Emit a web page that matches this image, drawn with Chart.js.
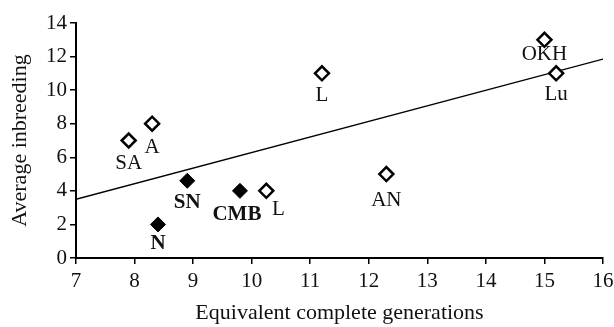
<!DOCTYPE html>
<html>
<head>
<meta charset="utf-8">
<script src="https://cdn.jsdelivr.net/npm/chart.js@4.4.1/dist/chart.umd.min.js"></script>
<style>
  html, body { margin: 0; padding: 0; background: #fff; }
  #wrap { width: 614px; height: 327px; }
</style>
</head>
<body>
<div id="wrap"><canvas id="c" width="614" height="327"></canvas></div>
<script>
// Open-diamond populations
const openLabels = ["SA", "A", "L", "OKH", "Lu", "AN", "L"];
const openX = [7.9, 8.3, 11.2, 15.0, 15.2, 12.3, 10.25];
const openY = [7.0, 8.0, 11.0, 13.0, 11.0, 5.0, 4.0];

// Filled-diamond populations
const filledLabels = ["SN", "CMB", "N"];
const filledX = [8.9, 9.8, 8.4];
const filledY = [4.6, 4.0, 2.0];

// Trend line end points
const trendX = [7, 16];
const trendY = [3.5, 11.85];

// Axis ticks
const xTicks = [7, 8, 9, 10, 11, 12, 13, 14, 15, 16];
const yTicks = [0, 2, 4, 6, 8, 10, 12, 14];

const xTitle = "Equivalent complete generations";
const yTitle = "Average inbreeding";

const FONT = "'Liberation Serif', 'DejaVu Serif', serif";

// label offsets (style, pixels) per dataset index
const labelStyle = {
  0: { dx: [0, 0, 0, 0, 0, 0, 12], dy: [23, 24, 22, 15, 21, 26, 19], bold: false },
  1: { dx: [0, -3, 0], dy: [22, 24, 19], bold: true }
};

const pointLabels = {
  id: 'pointLabels',
  afterDatasetsDraw(chart) {
    const ctx = chart.ctx;
    ctx.save();
    ctx.fillStyle = '#111';
    ctx.textAlign = 'center';
    ctx.textBaseline = 'middle';
    [0, 1].forEach(di => {
      const meta = chart.getDatasetMeta(di);
      const lbls = chart.data.datasets[di].pointNames;
      const st = labelStyle[di];
      ctx.font = (st.bold ? 'bold ' : '') + '21px ' + FONT;
      meta.data.forEach((pt, i) => {
        ctx.fillText(lbls[i], pt.x + st.dx[i], pt.y + st.dy[i]);
      });
    });
    ctx.restore();
  }
};

new Chart(document.getElementById('c'), {
  type: 'scatter',
  data: {
    datasets: [
      {
        data: openX.map((x, i) => ({ x: x, y: openY[i] })),
        pointNames: openLabels,
        pointStyle: 'rectRot',
        radius: 7,
        backgroundColor: '#fff',
        borderColor: '#000',
        borderWidth: 2.5,
        order: 1
      },
      {
        data: filledX.map((x, i) => ({ x: x, y: filledY[i] })),
        pointNames: filledLabels,
        pointStyle: 'rectRot',
        radius: 7.5,
        backgroundColor: '#000',
        borderColor: '#000',
        borderWidth: 1,
        order: 1
      },
      {
        type: 'line',
        data: trendX.map((x, i) => ({ x: x, y: trendY[i] })),
        borderColor: '#000',
        borderWidth: 1.3,
        pointRadius: 0,
        fill: false,
        order: 2
      }
    ]
  },
  options: {
    responsive: false,
    animation: false,
    devicePixelRatio: 1,
    layout: { padding: { top: 23, right: 11, left: 0, bottom: 0 } },
    plugins: { legend: { display: false }, tooltip: { enabled: false } },
    scales: {
      x: {
        type: 'linear',
        min: 7, max: 16,
        afterBuildTicks: s => { s.ticks = xTicks.map(v => ({ value: v })); },
        afterFit: s => { s.height = 69; s.paddingLeft = 0; s.paddingRight = 0; },
        border: { display: true, color: '#000', width: 2 },
        grid: { display: true, drawOnChartArea: false, drawTicks: true, tickLength: 6, color: '#000', lineWidth: 1.5 },
        ticks: { color: '#111', font: { family: FONT, size: 21 }, padding: 5 },
        title: { display: true, text: xTitle, color: '#111', font: { family: FONT, size: 22 }, padding: { top: 0, bottom: 1 } }
      },
      y: {
        type: 'linear',
        min: 0, max: 14,
        afterBuildTicks: s => { s.ticks = yTicks.map(v => ({ value: v })); },
        afterFit: s => { s.width = 76; s.paddingTop = 0; s.paddingBottom = 0; },
        border: { display: true, color: '#000', width: 2 },
        grid: { display: true, drawOnChartArea: false, drawTicks: true, tickLength: 6, color: '#000', lineWidth: 1.5 },
        ticks: { color: '#111', font: { family: FONT, size: 21 }, padding: 3 },
        title: { display: true, text: yTitle, color: '#111', font: { family: FONT, size: 22 }, padding: { top: 7, bottom: 0 } }
      }
    }
  },
  plugins: [pointLabels]
});
</script>
</body>
</html>
